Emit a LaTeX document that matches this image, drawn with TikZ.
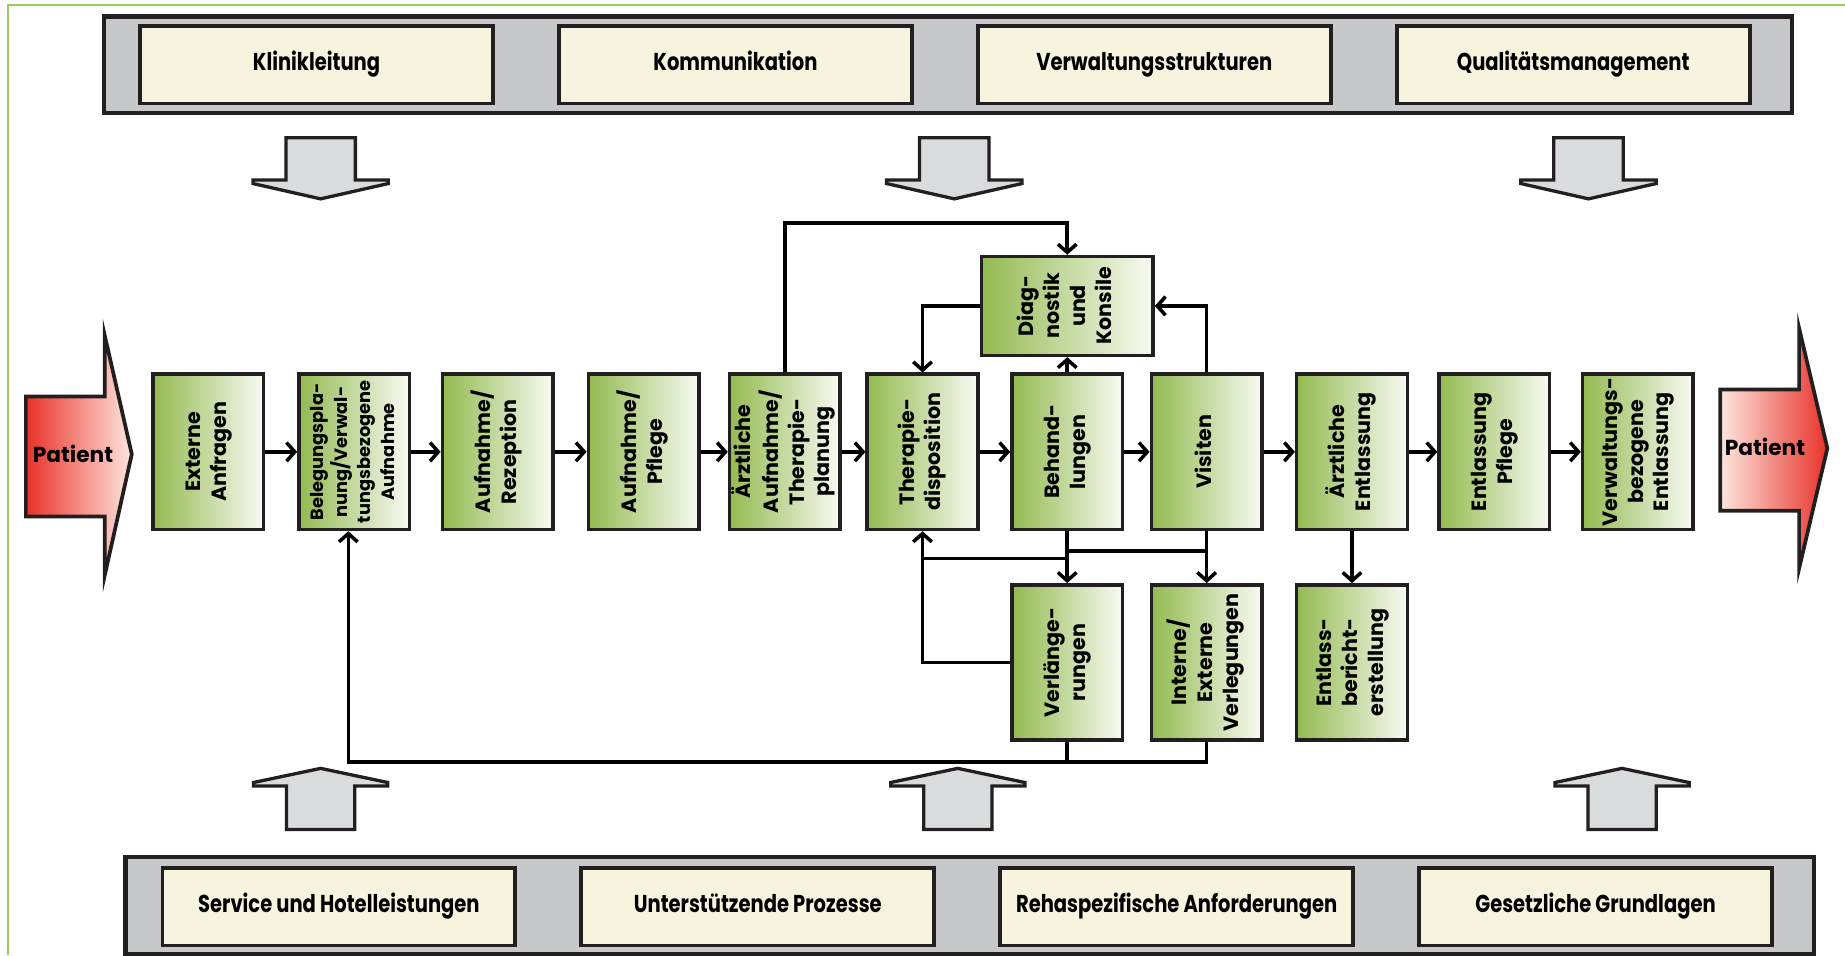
\documentclass[tikz,border=0pt]{standalone}
\usepackage{fontspec}
\setmainfont{Poppins}
\newfontfamily\condfont{Poppins}[FakeStretch=0.8]
\usepackage{graphicx}
\usetikzlibrary{arrows.meta}

\definecolor{ink}{HTML}{231F20}
\definecolor{framegreen}{HTML}{9CCB5E}
\definecolor{bargray}{HTML}{C7C8CA}
\definecolor{cream}{HTML}{F6F3DF}
\definecolor{arrowgray}{HTML}{DADBDD}
\definecolor{boxgreen}{HTML}{93BA50}
\definecolor{boxpale}{HTML}{F8FAF3}
\definecolor{patred}{HTML}{E8322A}
\definecolor{patpale}{HTML}{FDE6DE}

% rotated, centred multi-line label
\newcommand{\vtext}[1]{\rotatebox{90}{\begin{tabular}{@{}c@{}}#1\end{tabular}}}

\begin{document}
\begin{tikzpicture}[x=0.02cm,y=-0.02cm,line width=1.7pt,>={Straight Barb[length=4pt,width=9pt]}]
  \tikzstyle{block}=[draw=ink,line width=1.7pt,left color=boxgreen,right color=boxpale,inner sep=0pt,minimum width=1.88cm,minimum height=2.64cm,font=\bfseries\fontsize{10}{12.5}\selectfont]
  \tikzstyle{field}=[draw=ink,line width=1.8pt,fill=cream,minimum width=6cm,minimum height=1.32cm,text height=0.75em,text depth=0.22em,font=\condfont\bfseries\fontsize{11.8}{13}\selectfont]
  \tikzstyle{bar}=[draw=ink,line width=2pt,fill=bargray,minimum width=28.7cm,minimum height=1.64cm]
  \tikzstyle{bigarrow}=[draw=ink,line width=1.6pt,fill=arrowgray,line join=miter]
  \tikzstyle{patarrow}=[draw=ink,line width=1.8pt,line join=miter]
  \def\rowy{384}	% y of the main row
  \def\lowy{563}	% y of the lower row
  \def\hd{17}	% drop below a box to the link lines
  \useasboundingbox (0,0) rectangle (1568,812);
  \draw[framegreen,line width=0.8pt] (7,812) -- (7,4) -- (1568,4);

  \node[bar] (topbar) at (805.5,55) {};
  \node[field] (klinik) at (269,55) {Klinikleitung};
  \node[field] (komm) at (625,55) {Kommunikation};
  \node[field] (verw) at (981,55) {Verwaltungsstrukturen};
  \node[field] (qm) at (1337,55) {Qualitätsmanagement};

  \node[bar] (botbar) at (824,769.5) {};
  \node[field] (service) at (288,770.5) {Service und Hotelleistungen};
  \node[field] (support) at (644,770.5) {Unterstützende Prozesse};
  \node[field] (reha) at (1000,770.5) {Rehaspezifische Anforderungen};
  \node[field] (law) at (1356,770.5) {Gesetzliche Grundlagen};

  \foreach \cx in {272.5,811,1350}
    \draw[bigarrow] (\cx-29.5,117) -- (\cx+29.5,117) -- (\cx+29.5,153) -- (\cx+57.5,153)
      -- (\cx+57.5,156) -- (\cx,169) -- (\cx-57.5,156) -- (\cx-57.5,153) -- (\cx-29.5,153) -- cycle;
  \foreach \cx in {272.5,814,1378.5}
    \draw[bigarrow] (\cx-29,705) -- (\cx+29,705) -- (\cx+29,668) -- (\cx+57,668)
      -- (\cx+57,665) -- (\cx,653) -- (\cx-57,665) -- (\cx-57,668) -- (\cx-29,668) -- cycle;

  \draw[patarrow,left color=patred,right color=patpale] (22,337) -- (89,337) -- (89,285)
    -- (112,386) -- (89,489) -- (89,439) -- (22,439) -- cycle;
  \node[font=\bfseries\fontsize{10.5}{12}\selectfont] (patin) at (62,386) {Patient};
  \draw[patarrow,left color=patpale,right color=patred] (1462,331) -- (1529,331) -- (1529,279)
    -- (1553,381) -- (1529,483) -- (1529,434) -- (1462,434) -- cycle;
  \node[font=\bfseries\fontsize{10.5}{12}\selectfont] (patout) at (1500,380) {Patient};

  \node[block] (ext) at (177,\rowy) {\vtext{Externe\\Anfragen}};
  \node[block,font=\bfseries\fontsize{8.6}{11.5}\selectfont] (beleg) at (301,\rowy) {\vtext{Belegungspla-\\nung/Verwal-\\tungsbezogene\\Aufnahme}};
  \node[block] (rez) at (423,\rowy) {\vtext{Aufnahme/\\Rezeption}};
  \node[block] (pfl) at (547,\rowy) {\vtext{Aufnahme/\\Pflege}};
  \node[block] (aeauf) at (667,\rowy) {\vtext{Ärztliche\\Aufnahme/\\Therapie-\\planung}};
  \node[block] (thdisp) at (784,\rowy) {\vtext{Therapie-\\disposition}};
  \node[block] (behand) at (907,\rowy) {\vtext{Behand-\\lungen}};
  \node[block] (visit) at (1025.5,\rowy) {\vtext{Visiten}};
  \node[block] (aeentl) at (1149,\rowy) {\vtext{Ärztliche\\Entlassung}};
  \node[block] (entlpfl) at (1270,\rowy) {\vtext{Entlassung\\Pflege}};
  \node[block] (vwentl) at (1392,\rowy) {\vtext{Verwaltungs-\\bezogene\\Entlassung}};
  \node[block,minimum width=2.92cm,minimum height=1.68cm] (diag) at (907,260) {\vtext{Diag-\\nostik\\und\\Konsile}};
  \node[block] (verl) at (907,\lowy) {\vtext{Verlänge-\\rungen}};
  \node[block] (verleg) at (1025.5,\lowy) {\vtext{Interne/\\Externe\\Verlegungen}};
  \node[block] (bericht) at (1149,\lowy) {\vtext{Entlass-\\bericht-\\erstellung}};

  \foreach \a/\b in {ext/beleg,beleg/rez,rez/pfl,pfl/aeauf,aeauf/thdisp,thdisp/behand,
      behand/visit,visit/aeentl,aeentl/entlpfl,entlpfl/vwentl}
    \draw[->] (\a) -- (\b);
  \draw[->] (aeentl) -- (bericht);

  \path (diag.north) + (0,-27) coordinate (over);
  \draw[->] (aeauf.north) |- (over) -- (diag.north);
  \draw[->] (diag.west) -| (thdisp.north);
  \draw[->] (visit.north) |- (diag.east);
  \draw[->] (behand.north) -- (diag.south);

  \draw[->] (behand.south) -- (verl.north);
  \draw[->] (visit.south) -- (verleg.north);
  \path (behand.south) + (0,\hd) coordinate (jb);
  \draw (jb) -- (jb -| visit.south);
  \path (behand.south) + (0,23) coordinate (jt);
  \draw[->] (jt) -| (thdisp.south);
  \draw (verl.west) -| (jt -| thdisp.south);

  \path (verleg.south) + (0,\hd) coordinate (jl);
  \path (beleg.south) + (-5,0) coordinate (bin);
  \draw (verl.south) -- (verl.south |- jl);
  \draw[->] (verleg.south) -- (jl) -| (bin);
\end{tikzpicture}
\end{document}
